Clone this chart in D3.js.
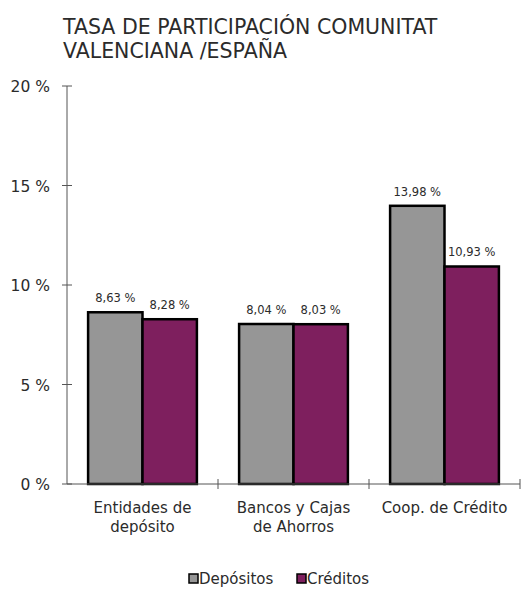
<!DOCTYPE html>
<html>
<head>
<meta charset="utf-8">
<script src="https://cdn.jsdelivr.net/npm/d3@7"></script>
<style>
  body { margin: 0; background: #fff; }
  text { font-family: "DejaVu Sans", sans-serif; fill: #2b2b2b; }
</style>
</head>
<body>
<div id="chart"></div>
<script>
// chart values
const categories = [["Entidades de", "depósito"], ["Bancos y Cajas", "de Ahorros"], ["Coop. de Crédito"]];
const seriesNames = ["Depósitos", "Créditos"];
const depositos = [8.63, 8.04, 13.98];
const creditos = [8.28, 8.03, 10.93];
const yTicks = [0, 5, 10, 15, 20];
const colors = ["#969696", "#7e1f5e"];

const width = 521, height = 589;
const margin = { top: 86, right: 1, bottom: 105, left: 67 };

const svg = d3.select("#chart").append("svg")
  .attr("width", width)
  .attr("height", height);

// title
const title = svg.append("text").attr("x", 63).attr("y", 34).style("font-size", "20.5px");
title.append("tspan").attr("x", 63).text("TASA DE PARTICIPACIÓN  COMUNITAT");
title.append("tspan").attr("x", 63).attr("dy", 24).text("VALENCIANA /ESPAÑA");

const x = d3.scaleBand()
  .domain(d3.range(categories.length))
  .range([margin.left, width - margin.right])
  .paddingInner(0)
  .paddingOuter(0);

const x1 = d3.scaleBand()
  .domain(d3.range(seriesNames.length))
  .range([0, x.bandwidth()])
  .paddingOuter(0.388)
  .paddingInner(0);

const y = d3.scaleLinear()
  .domain([0, 20])
  .range([height - margin.bottom, margin.top]);

// y axis
const yAxis = svg.append("g");
yAxis.append("line")
  .attr("x1", margin.left).attr("x2", margin.left)
  .attr("y1", y(20)).attr("y2", y(0))
  .attr("stroke", "#555").attr("stroke-width", 1);
yAxis.selectAll(".tk").data(yTicks).enter().append("line")
  .attr("x1", margin.left - 5).attr("x2", margin.left + 5)
  .attr("y1", d => y(d)).attr("y2", d => y(d))
  .attr("stroke", "#555");
yAxis.selectAll(".lbl").data(yTicks).enter().append("text")
  .attr("x", 50).attr("y", d => y(d) + 6)
  .attr("text-anchor", "end")
  .style("font-size", "15.5px")
  .text(d => d + " %");

// bars
const data = categories.map((c, i) => [depositos[i], creditos[i]]);
const groups = svg.selectAll(".grp").data(data).enter().append("g")
  .attr("transform", (d, i) => `translate(${x(i)},0)`);

groups.selectAll("rect").data(d => d).enter().append("rect")
  .attr("x", (d, j) => x1(j))
  .attr("y", d => y(d))
  .attr("width", x1.bandwidth())
  .attr("height", d => y(0) - y(d))
  .attr("fill", (d, j) => colors[j])
  .attr("stroke", "#000")
  .attr("stroke-width", 2.5);

groups.selectAll(".val").data(d => d).enter().append("text")
  .attr("x", (d, j) => x1(j) + x1.bandwidth() / 2)
  .attr("y", d => y(d) - 10)
  .attr("text-anchor", "middle")
  .style("font-size", "11.5px")
  .text(d => d.toFixed(2).replace(".", ",") + " %");

// x axis
const xAxis = svg.append("g");
xAxis.append("line")
  .attr("x1", margin.left).attr("x2", width - margin.right)
  .attr("y1", y(0)).attr("y2", y(0))
  .attr("stroke", "#555");
xAxis.selectAll(".xt").data(d3.range(categories.length)).enter().append("line")
  .attr("x1", d => x(d) + x.bandwidth()).attr("x2", d => x(d) + x.bandwidth())
  .attr("y1", y(0) - 5).attr("y2", y(0) + 5)
  .attr("stroke", "#555");
const cl = xAxis.selectAll(".cl").data(categories).enter().append("text")
  .attr("y", y(0) + 29)
  .attr("text-anchor", "middle")
  .style("font-size", "15px");
cl.selectAll("tspan").data((d, i) => d.map(s => [s, i])).enter().append("tspan")
  .attr("x", d => x(d[1]) + x.bandwidth() / 2)
  .attr("dy", (d, k) => k === 0 ? 0 : 19)
  .text(d => d[0]);

// legend
const legend = svg.append("g");
const legX = [189, 297];
seriesNames.forEach((s, j) => {
  legend.append("rect")
    .attr("x", legX[j]).attr("y", 574)
    .attr("width", 9).attr("height", 9)
    .attr("fill", colors[j]).attr("stroke", "#000").attr("stroke-width", 1.5);
  legend.append("text")
    .attr("x", legX[j] + 10).attr("y", 584)
    .style("font-size", "15px")
    .text(s);
});
</script>
</body>
</html>
